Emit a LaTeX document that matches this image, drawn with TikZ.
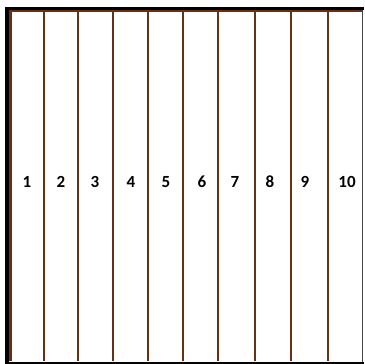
\documentclass[tikz,border=0pt]{standalone}
\usepackage{fontspec}
\newfontfamily\stripfont{Carlito}
\definecolor{stripbrown}{RGB}{102,50,18}
\definecolor{edgegray}{RGB}{70,70,70}
\tikzset{
  divider/.style={draw=stripbrown,line width=2.2pt},
  striplabel/.style={font=\stripfont\bfseries\fontsize{17}{17}\selectfont,inner sep=0pt},
}

\begin{document}
\begin{tikzpicture}[x=1pt,y=-1pt]
  \useasboundingbox (0,0) rectangle (364,364);
  % strip dividers
  \draw[divider] (10.5,10) -- (10.5,361);
  \foreach \xd in {44,78,113,148,183,218,255,291,328}
    \draw[divider] (\xd,10) -- (\xd,361);
  \draw[divider] (9,11) -- (362,11);
  % outer frame
  \fill (5,7) rectangle (9,363.5);
  \fill (5,7) rectangle (364,10);
  \fill (5,361.5) rectangle (364,363.5);
  \draw[edgegray,line width=1.2pt] (362.8,10) -- (362.8,361.5);
  % strip numbers
  \foreach \xl/\nm in {27/1,61/2,95/3,131/4,166/5,202/6,235/7,270/8,305/9,347/10}
    \node[striplabel] (strip\nm) at (\xl,182) {\nm};
\end{tikzpicture}
\end{document}
